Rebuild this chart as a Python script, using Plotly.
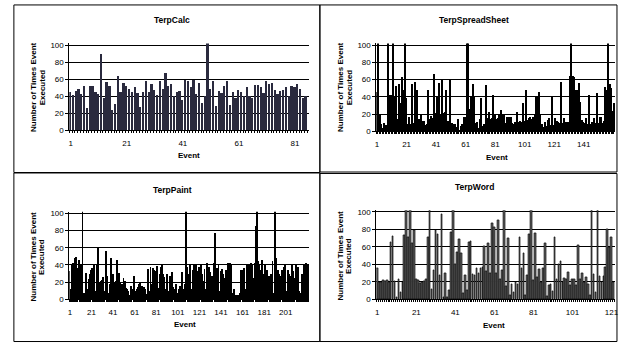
import plotly.graph_objects as go

W, H = 619, 348

titles = ["TerpCalc", "TerpSpreadSheet", "TerpPaint", "TerpWord"]
y_ticks = [0, 20, 40, 60, 80, 100]
x_ticks_calc = [1, 21, 41, 61, 81]
x_ticks_sheet = [1, 21, 41, 61, 81, 101, 121, 141]
x_ticks_paint = [1, 21, 41, 61, 81, 101, 121, 141, 161, 181, 201]
x_ticks_word = [1, 21, 41, 61, 81, 101, 121]

calc_values = [44, 41, 46, 48, 42, 51, 26, 51, 51, 44,
               42, 89, 38, 56, 52, 24, 30, 63, 45, 55,
               52, 48, 45, 50, 43, 27, 45, 57, 44, 54,
               47, 41, 57, 48, 67, 52, 54, 40, 45, 46,
               35, 59, 57, 50, 59, 42, 55, 32, 40, 105,
               48, 58, 28, 46, 43, 51, 57, 29, 44, 37,
               47, 45, 40, 50, 40, 37, 53, 53, 50, 43,
               57, 54, 55, 47, 42, 46, 47, 50, 40, 51,
               50, 54, 48, 38, 40]

sheet_values = [45, 105, 20, 8, 3, 9, 7, 5, 105, 42,
                42, 105, 40, 52, 14, 55, 33, 62, 47, 105,
                38, 8, 16, 8, 55, 9, 57, 48, 8, 14,
                20, 12, 12, 7, 8, 48, 14, 17, 15, 66,
                21, 40, 56, 20, 59, 21, 22, 48, 12, 12,
                60, 9, 8, 8, 5, 14, 1, 6, 8, 16,
                16, 105, 105, 25, 40, 55, 41, 9, 10, 4,
                14, 38, 6, 8, 53, 15, 22, 14, 15, 42,
                20, 14, 15, 18, 24, 20, 18, 9, 16, 7,
                16, 16, 9, 8, 10, 22, 10, 11, 10, 33,
                11, 47, 13, 15, 16, 14, 16, 20, 41, 40,
                45, 20, 8, 5, 10, 6, 13, 15, 7, 41,
                7, 15, 12, 10, 9, 57, 9, 15, 10, 10,
                10, 64, 105, 64, 62, 47, 48, 56, 34, 13,
                10, 9, 15, 8, 42, 8, 10, 15, 9, 44,
                9, 16, 16, 9, 12, 51, 47, 105, 54, 50,
                23, 33]

paint_values = [33, 12, 40, 43, 36, 48, 49, 31, 37, 46,
                35, 40, 105, 8, 4, 31, 12, 12, 24, 30,
                34, 37, 37, 42, 10, 41, 61, 10, 20, 22,
                23, 26, 10, 8, 57, 27, 8, 18, 48, 7,
                30, 8, 21, 22, 46, 8, 31, 20, 15, 18,
                25, 22, 13, 12, 10, 5, 4, 16, 10, 12,
                28, 10, 12, 15, 18, 20, 12, 16, 8, 15,
                12, 6, 7, 36, 10, 38, 18, 37, 35, 10,
                33, 39, 14, 8, 30, 38, 41, 30, 26, 12,
                30, 8, 10, 28, 8, 32, 15, 10, 12, 18,
                8, 12, 16, 10, 32, 10, 12, 18, 105, 38,
                30, 28, 42, 12, 35, 40, 8, 40, 33, 25,
                38, 6, 40, 30, 22, 36, 12, 43, 8, 38,
                32, 10, 28, 12, 43, 78, 20, 37, 40, 10,
                33, 36, 30, 25, 12, 35, 10, 43, 42, 43,
                42, 8, 12, 5, 4, 5, 3, 5, 8, 34,
                10, 35, 37, 12, 40, 35, 42, 10, 43, 40,
                25, 12, 43, 86, 105, 45, 40, 35, 46, 28,
                30, 40, 10, 35, 25, 28, 12, 30, 45, 8,
                105, 48, 10, 35, 30, 8, 28, 35, 12, 38,
                42, 10, 35, 30, 8, 28, 40, 33, 12, 25,
                42, 6, 38, 10, 8, 30, 4, 42, 10, 43,
                12, 40]

word_values = [35, 20, 20, 22, 21, 22, 20, 65, 72, 21,
               2, 23, 8, 20, 73, 105, 71, 105, 64, 79,
               23, 22, 18, 20, 21, 23, 71, 105, 12, 33,
               79, 74, 27, 97, 2, 30, 2, 10, 77, 105,
               40, 54, 69, 53, 7, 27, 10, 65, 67, 29,
               28, 36, 30, 35, 37, 61, 32, 64, 30, 87,
               82, 30, 91, 23, 33, 105, 15, 70, 5, 17,
               8, 19, 17, 71, 36, 53, 4, 27, 74, 105,
               22, 76, 25, 34, 20, 36, 64, 3, 16, 17,
               9, 71, 23, 40, 44, 20, 24, 23, 31, 16,
               23, 23, 16, 62, 23, 30, 20, 25, 17, 5,
               105, 29, 8, 105, 26, 20, 26, 37, 80, 60,
               71, 20]

FONT = "Liberation Sans, Arial, sans-serif"


def px(x):
    return x / W


def py(y):
    return 1 - y / H


panels = [
    dict(vals=calc_values, ticks=x_ticks_calc, x0=68, x1=310, yb=131, yt=42.26,
         xr=[0.5, 86.0], color="#2a2a3e", lw=0, bw=0.62,
         tpos=(171.5, 18.3), epos=(189, 157), yx=(32, 40.5), yy=87),
    dict(vals=sheet_values, ticks=x_ticks_sheet, x0=378, x1=619, yb=132, yt=42.24,
         xr=[0.5, 162.2], color="#000000", lw=0, bw=0.8,
         tpos=(477, 18.3), epos=(500, 159), yx=(342, 350.5), yy=87),
    dict(vals=paint_values, ticks=x_ticks_paint, x0=68, x1=310, yb=303.3, yt=213.95,
         xr=[0.5, 222.5], color="#000000", lw=0, bw=0.85,
         tpos=(172, 191.7), epos=(185, 329), yx=(32, 40.5), yy=260),
    dict(vals=word_values, ticks=x_ticks_word, x0=378, x1=619, yb=303.3, yt=212.5,
         xr=[0.5, 122.8], color="#5e5e5e", lw=0.6, bw=0.85,
         tpos=(477, 188.3), epos=(497, 330), yx=(342, 350.5), yy=259),
]

fig = go.Figure()
annotations = []
layout = dict(width=W, height=H, margin=dict(l=0, r=0, t=0, b=0),
              paper_bgcolor="white", plot_bgcolor="white",
              font=dict(family=FONT, color="black", size=8),
              showlegend=False, bargap=0)

for k, p in enumerate(panels):
    n = "" if k == 0 else str(k + 1)
    fig.add_trace(go.Bar(
        x=list(range(1, len(p["vals"]) + 1)), y=p["vals"],
        xaxis="x" + n, yaxis="y" + n, width=p["bw"],
        marker=dict(color=p["color"], line=dict(width=p["lw"], color="black")),
        hoverinfo="skip"))
    layout["xaxis" + n] = dict(
        domain=[px(p["x0"]), px(p["x1"])], range=p["xr"], anchor="y" + n,
        tickmode="array", tickvals=p["ticks"], ticks="", showgrid=False,
        zeroline=False, showline=True, linecolor="black", linewidth=1,
        tickfont=dict(size=8, family=FONT), ticklabelstandoff=5,
        ticklabeloverflow="allow",
        minor=dict(ticks="outside", ticklen=2, tickcolor="black", tickwidth=1,
                   tickmode="linear", tick0=0.5, dtick=1, showgrid=False))
    layout["yaxis" + n] = dict(
        domain=[py(p["yb"]), py(p["yt"])], range=[0, 102], anchor="x" + n,
        tickmode="array", tickvals=y_ticks, ticks="outside", ticklen=3,
        tickcolor="black", showgrid=True, gridcolor="black", gridwidth=1,
        zeroline=False, showline=True, linecolor="black", linewidth=1,
        tickfont=dict(size=8, family=FONT))
    annotations.append(dict(x=px(p["tpos"][0]), y=py(p["tpos"][1]), xref="paper", yref="paper",
                            text="<b>" + titles[k] + "</b>", showarrow=False,
                            xanchor="center", yanchor="middle",
                            font=dict(size=8.5, family=FONT, color="black")))
    annotations.append(dict(x=px(p["epos"][0]), y=py(p["epos"][1]), xref="paper", yref="paper",
                            text="<b>Event</b>", showarrow=False,
                            xanchor="center", yanchor="middle",
                            font=dict(size=8, family=FONT, color="black")))
    for txt, xx in zip(["Number of Times Event", "Executed"], p["yx"]):
        annotations.append(dict(x=px(xx), y=py(p["yy"]), xref="paper", yref="paper",
                                text="<b>" + txt + "</b>", showarrow=False, textangle=-90,
                                xanchor="center", yanchor="middle",
                                font=dict(size=8, family=FONT, color="black")))

boxes = [(12, 3, 321, 174), (321, 3, 621, 173.5), (12, 174.5, 321, 346.5), (321, 175, 621, 346.5)]
shapes = []
for (a, b, c, d) in boxes:
    shapes.append(dict(type="rect", xref="paper", yref="paper",
                       x0=px(a), x1=px(c), y0=py(d), y1=py(b),
                       line=dict(color="black", width=1), layer="above"))

layout["annotations"] = annotations
layout["shapes"] = shapes
fig.update_layout(**layout)
fig.write_html("out.html")
